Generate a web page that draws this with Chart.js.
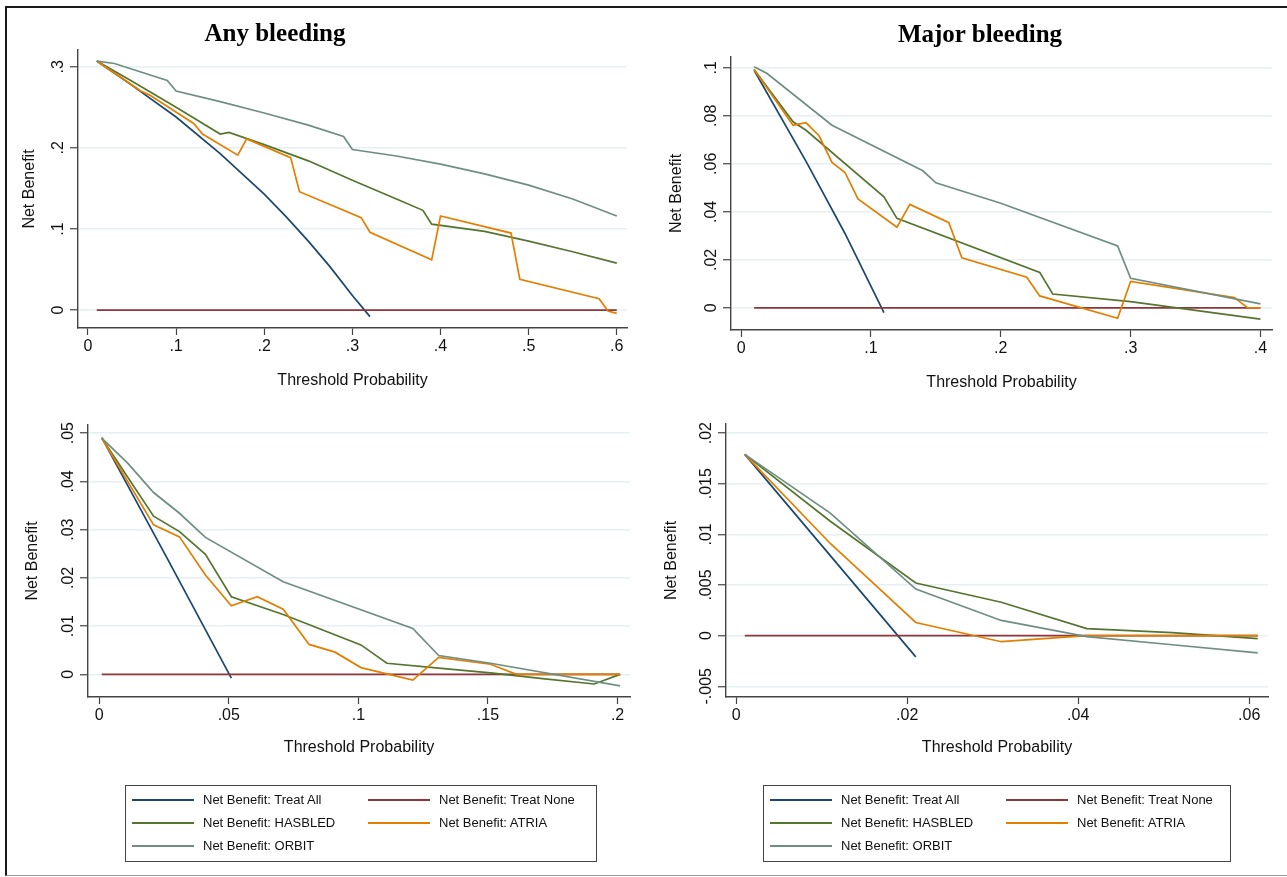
<!DOCTYPE html>
<html>
<head>
<meta charset="utf-8">
<title>Net benefit: Any bleeding / Major bleeding</title>
<script src="https://cdn.jsdelivr.net/npm/chart.js@4.4.1/dist/chart.umd.min.js"></script>
<style>
  html, body { margin: 0; padding: 0; background: #fff; }
  #page { position: relative; width: 1287px; height: 877px; overflow: hidden;
          font-family: "Liberation Sans", Arial, Helvetica, sans-serif; }
  #frame { position: absolute; left: 5px; top: 6px; width: 1282px; height: 870px; box-sizing: border-box;
           border-left: 2px solid #1a1a1a; border-top: 2px solid #1a1a1a; border-bottom: 1px solid #999; }
  canvas { position: absolute; }
  .title { position: absolute; transform: translate(-50%, -50%); white-space: nowrap;
           font: bold 25px "Liberation Serif", "Times New Roman", serif; line-height: 25px; color: #000; }
  .legend { position: absolute; top: 785px; height: 77px; box-sizing: border-box;
            border: 1px solid #444; font-size: 13px; color: #111; background: #fff; }
  .legend .item { position: absolute; height: 16px; line-height: 16px; white-space: nowrap; }
  .legend .swatch { position: absolute; left: 0; top: 7px; width: 62px; height: 2px; }
  .legend .text { position: absolute; left: 71px; top: 0; }
</style>
</head>
<body>
<div id="page">
  <canvas id="chartAnyTop"></canvas>
  <canvas id="chartMajorTop"></canvas>
  <canvas id="chartAnyBottom"></canvas>
  <canvas id="chartMajorBottom"></canvas>
  <div id="frame"></div>
  <div class="title" style="left:275px; top:32px">Any bleeding</div>
  <div class="title" style="left:980px; top:33px">Major bleeding</div>
  <div class="legend" id="legendLeft" style="left:125px; width:472px"></div>
  <div class="legend" id="legendRight" style="left:763px; width:468px"></div>
</div>
<script>
// series, in the order Stata draws them
const seriesLabels = ['Net Benefit: Treat All', 'Net Benefit: Treat None', 'Net Benefit: HASBLED',
                      'Net Benefit: ATRIA', 'Net Benefit: ORBIT']
const seriesColors = ['#1a476f', '#90353b', '#55752f', '#e37e00', '#6e8e84']

// ---- Any bleeding, top left ----
const anyTopAllX = [0.01, 0.05, 0.10, 0.15, 0.20, 0.225, 0.25, 0.275, 0.30, 0.32]
const anyTopAllY = [0.307, 0.277, 0.238, 0.193, 0.143, 0.115, 0.085, 0.053, 0.018, -0.008]
const anyTopNoneX = [0.01, 0.60]
const anyTopNoneY = [0, 0]
const anyTopHasbledX = [0.01, 0.05, 0.10, 0.15, 0.16, 0.20, 0.25, 0.30, 0.35, 0.38, 0.39, 0.45, 0.50, 0.55, 0.60]
const anyTopHasbledY = [0.307, 0.282, 0.250, 0.217, 0.219, 0.204, 0.184, 0.160, 0.137, 0.123, 0.106, 0.097, 0.085, 0.072, 0.058]
const anyTopAtriaX = [0.01, 0.06, 0.07, 0.12, 0.13, 0.17, 0.18, 0.23, 0.24, 0.31, 0.32, 0.39, 0.40, 0.48, 0.49, 0.58, 0.59, 0.60]
const anyTopAtriaY = [0.307, 0.270, 0.265, 0.230, 0.217, 0.191, 0.211, 0.188, 0.146, 0.114, 0.096, 0.062, 0.116, 0.095, 0.038, 0.014, -0.001, -0.004]
const anyTopOrbitX = [0.01, 0.03, 0.09, 0.10, 0.15, 0.20, 0.25, 0.29, 0.30, 0.35, 0.40, 0.45, 0.50, 0.55, 0.60]
const anyTopOrbitY = [0.307, 0.304, 0.283, 0.270, 0.257, 0.243, 0.228, 0.214, 0.198, 0.190, 0.180, 0.168, 0.154, 0.137, 0.116]

// ---- Major bleeding, top right ----
const majorTopAllX = [0.01, 0.05, 0.08, 0.11]
const majorTopAllY = [0.099, 0.061, 0.031, -0.002]
const majorTopNoneX = [0.01, 0.40]
const majorTopNoneY = [0, 0]
const majorTopHasbledX = [0.01, 0.04, 0.05, 0.11, 0.12, 0.23, 0.24, 0.30, 0.40]
const majorTopHasbledY = [0.0993, 0.0775, 0.0740, 0.0463, 0.0373, 0.0148, 0.0058, 0.0026, -0.0047]
const majorTopAtriaX = [0.01, 0.04, 0.05, 0.06, 0.07, 0.08, 0.09, 0.12, 0.13, 0.16, 0.17, 0.22, 0.23, 0.29, 0.30, 0.38, 0.39, 0.40]
const majorTopAtriaY = [0.0993, 0.0761, 0.0771, 0.0717, 0.0606, 0.0564, 0.0454, 0.0336, 0.0431, 0.0355, 0.0209, 0.0128, 0.0050, -0.0043, 0.0110, 0.0043, 0.0001, 0.0]
const majorTopOrbitX = [0.01, 0.02, 0.07, 0.14, 0.15, 0.20, 0.29, 0.30, 0.40]
const majorTopOrbitY = [0.1004, 0.0976, 0.0761, 0.0571, 0.0521, 0.0436, 0.0258, 0.0123, 0.0017]

// ---- Any bleeding, bottom left ----
const anyBottomAllX = [0.001, 0.026, 0.051]
const anyBottomAllY = [0.0491, 0.0243, -0.0008]
const anyBottomNoneX = [0.001, 0.201]
const anyBottomNoneY = [0, 0]
const anyBottomHasbledX = [0.001, 0.021, 0.031, 0.041, 0.051, 0.071, 0.101, 0.111, 0.131, 0.151, 0.171, 0.191, 0.201]
const anyBottomHasbledY = [0.0490, 0.0328, 0.0296, 0.0249, 0.0161, 0.0124, 0.0061, 0.0023, 0.0013, 0.0003, -0.0009, -0.0020, 0.0]
const anyBottomAtriaX = [0.001, 0.021, 0.031, 0.041, 0.051, 0.061, 0.071, 0.081, 0.091, 0.101, 0.111, 0.121, 0.131, 0.151, 0.161, 0.201]
const anyBottomAtriaY = [0.0490, 0.0310, 0.0285, 0.0206, 0.0142, 0.0161, 0.0135, 0.0062, 0.0046, 0.0014, 0.0001, -0.0012, 0.0035, 0.0021, 0.0, 0.0]
const anyBottomOrbitX = [0.001, 0.011, 0.021, 0.031, 0.041, 0.071, 0.121, 0.131, 0.151, 0.201]
const anyBottomOrbitY = [0.0490, 0.0438, 0.0377, 0.0334, 0.0284, 0.0192, 0.0095, 0.0039, 0.0023, -0.0024]

// ---- Major bleeding, bottom right ----
const majorBottomAllX = [0.001, 0.011, 0.021]
const majorBottomAllY = [0.0179, 0.0079, -0.0021]
const majorBottomNoneX = [0.001, 0.061]
const majorBottomNoneY = [0, 0]
const majorBottomHasbledX = [0.001, 0.011, 0.021, 0.031, 0.041, 0.051, 0.061]
const majorBottomHasbledY = [0.0179, 0.0113, 0.0052, 0.0033, 0.0007, 0.0003, -0.0003]
const majorBottomAtriaX = [0.001, 0.011, 0.021, 0.031, 0.041, 0.061]
const majorBottomAtriaY = [0.0179, 0.0091, 0.0013, -0.0006, 0.0, 0.0]
const majorBottomOrbitX = [0.001, 0.011, 0.021, 0.031, 0.041, 0.051, 0.061]
const majorBottomOrbitY = [0.0179, 0.0121, 0.0046, 0.0015, -0.0001, -0.0009, -0.0017]

// tick values and their Stata-style labels
const anyTopXTicks = [0, 0.1, 0.2, 0.3, 0.4, 0.5, 0.6]
const anyTopXLabels = ['0', '.1', '.2', '.3', '.4', '.5', '.6']
const anyTopYTicks = [0, 0.1, 0.2, 0.3]
const anyTopYLabels = ['0', '.1', '.2', '.3']
const majorTopXTicks = [0, 0.1, 0.2, 0.3, 0.4]
const majorTopXLabels = ['0', '.1', '.2', '.3', '.4']
const majorTopYTicks = [0, 0.02, 0.04, 0.06, 0.08, 0.1]
const majorTopYLabels = ['0', '.02', '.04', '.06', '.08', '.1']
const anyBottomXTicks = [0, 0.05, 0.1, 0.15, 0.2]
const anyBottomXLabels = ['0', '.05', '.1', '.15', '.2']
const anyBottomYTicks = [0, 0.01, 0.02, 0.03, 0.04, 0.05]
const anyBottomYLabels = ['0', '.01', '.02', '.03', '.04', '.05']
const majorBottomXTicks = [0, 0.02, 0.04, 0.06]
const majorBottomXLabels = ['0', '.02', '.04', '.06']
const majorBottomYTicks = [-0.005, 0, 0.005, 0.01, 0.015, 0.02]
const majorBottomYLabels = ['-.005', '0', '.005', '.01', '.015', '.02']

const FONT = '"Liberation Sans", Arial, Helvetica, sans-serif'
Chart.defaults.font.family = FONT
Chart.defaults.font.size = 16
Chart.defaults.color = '#111'

// y tick labels in Stata are turned on their side
const rotatedYTicks = {
    id: 'rotatedYTicks',
    afterDraw(chart, args, opts) {
        const scale = chart.scales.y
        const ctx = chart.ctx
        const x = chart.chartArea.left - opts.offset
        ctx.save()
        ctx.fillStyle = '#111'
        ctx.font = '16px ' + FONT
        ctx.textAlign = 'center'
        ctx.textBaseline = 'middle'
        opts.values.forEach((v, i) => {
            ctx.save()
            ctx.translate(x, scale.getPixelForValue(v))
            ctx.rotate(-Math.PI / 2)
            ctx.fillText(opts.labels[i], 0, 0)
            ctx.restore()
        })
        ctx.restore()
    }
}

function toPoints(xs, ys) {
    return xs.map((x, i) => ({ x: x, y: ys[i] }))
}

function makePanel(id, box, area, range, xTicks, xLabels, yTicks, yLabels, xs, ys) {
    const canvas = document.getElementById(id)
    canvas.width = box.width
    canvas.height = box.height
    canvas.style.left = box.left + 'px'
    canvas.style.top = box.top + 'px'

    const yAxisWidth = area.left - box.left
    const xAxisHeight = box.top + box.height - area.bottom
    const lineHalf = 16 * 1.2 / 2

    new Chart(canvas, {
        type: 'line',
        data: {
            datasets: seriesLabels.map((label, i) => ({
                label: label,
                data: toPoints(xs[i], ys[i]),
                borderColor: seriesColors[i],
                backgroundColor: seriesColors[i],
                borderWidth: 1.7,
                pointRadius: 0,
                tension: 0,
                fill: false,
                order: seriesLabels.length - i
            }))
        },
        options: {
            responsive: false,
            animation: false,
            events: [],
            layout: {
                padding: { top: area.top - box.top, right: box.left + box.width - area.right, left: 0, bottom: 0 }
            },
            plugins: {
                legend: { display: false },
                tooltip: { enabled: false },
                rotatedYTicks: { values: yTicks, labels: yLabels, offset: 19 }
            },
            scales: {
                x: {
                    type: 'linear',
                    min: range.xMin,
                    max: range.xMax,
                    afterBuildTicks: s => { s.ticks = xTicks.map(v => ({ value: v })) },
                    afterFit: s => { s.height = xAxisHeight },
                    ticks: { callback: (v, i) => xLabels[i], padding: 2, maxRotation: 0, autoSkip: false },
                    grid: { drawOnChartArea: false, tickLength: 7, tickColor: '#444', tickWidth: 1.2 },
                    border: { color: '#444', width: 1.4 },
                    title: {
                        display: true,
                        text: 'Threshold Probability',
                        padding: { top: 0, bottom: box.top + box.height - box.xTitleY - lineHalf }
                    }
                },
                y: {
                    type: 'linear',
                    min: range.yMin,
                    max: range.yMax,
                    afterBuildTicks: s => { s.ticks = yTicks.map(v => ({ value: v })) },
                    afterFit: s => { s.width = yAxisWidth },
                    ticks: { display: false },
                    grid: { color: '#e6eff1', lineWidth: 1.5, tickLength: 8, tickColor: '#444', tickWidth: 1.2 },
                    border: { color: '#444', width: 1.4 },
                    title: {
                        display: true,
                        text: 'Net Benefit',
                        padding: { top: box.yTitleX - box.left - lineHalf, bottom: 0 }
                    }
                }
            }
        },
        plugins: [rotatedYTicks]
    })
}

makePanel('chartAnyTop',
    { left: 6, top: 40, width: 640, height: 370, xTitleY: 381, yTitleX: 30 },
    { left: 78, top: 50, right: 627, bottom: 328 },
    { xMin: -0.0113, xMax: 0.6116, yMin: -0.022, yMax: 0.3206 },
    anyTopXTicks, anyTopXLabels, anyTopYTicks, anyTopYLabels,
    [anyTopAllX, anyTopNoneX, anyTopHasbledX, anyTopAtriaX, anyTopOrbitX],
    [anyTopAllY, anyTopNoneY, anyTopHasbledY, anyTopAtriaY, anyTopOrbitY])

makePanel('chartMajorTop',
    { left: 650, top: 40, width: 637, height: 370, xTitleY: 383, yTitleX: 677 },
    { left: 731, top: 57, right: 1272, bottom: 330 },
    { xMin: -0.0078, xMax: 0.4089, yMin: -0.0092, yMax: 0.1045 },
    majorTopXTicks, majorTopXLabels, majorTopYTicks, majorTopYLabels,
    [majorTopAllX, majorTopNoneX, majorTopHasbledX, majorTopAtriaX, majorTopOrbitX],
    [majorTopAllY, majorTopNoneY, majorTopHasbledY, majorTopAtriaY, majorTopOrbitY])

makePanel('chartAnyBottom',
    { left: 6, top: 410, width: 640, height: 370, xTitleY: 748, yTitleX: 33 },
    { left: 88, top: 425, right: 630, bottom: 697 },
    { xMin: -0.0043, xMax: 0.2048, yMin: -0.0047, yMax: 0.0517 },
    anyBottomXTicks, anyBottomXLabels, anyBottomYTicks, anyBottomYLabels,
    [anyBottomAllX, anyBottomNoneX, anyBottomHasbledX, anyBottomAtriaX, anyBottomOrbitX],
    [anyBottomAllY, anyBottomNoneY, anyBottomHasbledY, anyBottomAtriaY, anyBottomOrbitY])

makePanel('chartMajorBottom',
    { left: 650, top: 410, width: 637, height: 370, xTitleY: 748, yTitleX: 672 },
    { left: 726, top: 424, right: 1268, bottom: 697 },
    { xMin: -0.0012, xMax: 0.0622, yMin: -0.00606, yMax: 0.0209 },
    majorBottomXTicks, majorBottomXLabels, majorBottomYTicks, majorBottomYLabels,
    [majorBottomAllX, majorBottomNoneX, majorBottomHasbledX, majorBottomAtriaX, majorBottomOrbitX],
    [majorBottomAllY, majorBottomNoneY, majorBottomHasbledY, majorBottomAtriaY, majorBottomOrbitY])

// two-column legend boxes under the bottom panels
function buildLegend(id) {
    const box = document.getElementById(id)
    seriesLabels.forEach((label, i) => {
        const row = Math.floor(i / 2)
        const col = i % 2
        const item = document.createElement('div')
        item.className = 'item'
        item.style.left = (col === 0 ? 6 : 242) + 'px'
        item.style.top = (14 + row * 23 - 8) + 'px'
        const swatch = document.createElement('div')
        swatch.className = 'swatch'
        swatch.style.background = seriesColors[i]
        const text = document.createElement('span')
        text.className = 'text'
        text.textContent = label
        item.appendChild(swatch)
        item.appendChild(text)
        box.appendChild(item)
    })
}
buildLegend('legendLeft')
buildLegend('legendRight')
</script>
</body>
</html>
